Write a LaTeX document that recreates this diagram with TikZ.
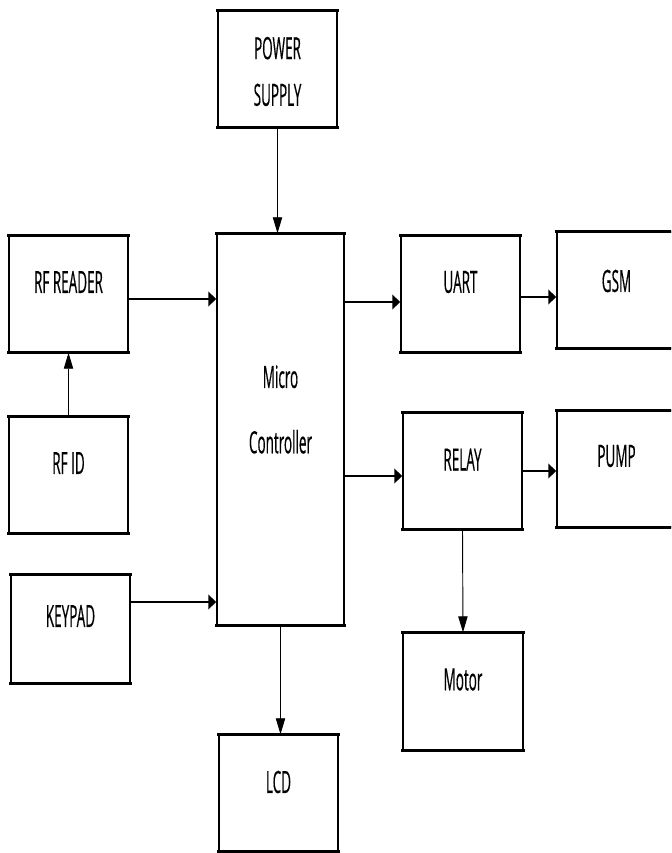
\documentclass[tikz,border=0pt]{standalone}
\usepackage{fontspec}
\setmainfont{Open Sans}[FakeStretch=0.44, FakeBold=0.4]
\usetikzlibrary{arrows.meta}
\begin{document}
\begin{tikzpicture}[x=0.75pt,y=-0.75pt,
  blk/.style 2 args={draw, line width=1.1pt, inner sep=0pt,
    minimum width=#1*0.75pt, minimum height=#2*0.75pt,
    append after command={(\tikzlastnode.north west) edge[draw, line width=2pt, line cap=rect] (\tikzlastnode.north east)
      (\tikzlastnode.south west) edge[draw, line width=2pt, line cap=rect] (\tikzlastnode.south east)}},
  lbl/.style={font=\fontsize{23}{35}\selectfont, text=black, inner sep=0pt, align=center},
  harrow/.style={line width=1.2pt, -{Triangle[length=6pt, width=11pt]}},
  varrow/.style={line width=0.7pt, -{Triangle[length=12pt, width=7pt]}}]
\path[use as bounding box, clip] (0,0) rectangle (671,853);

\node[blk={119}{116}, label={[name=psT, lbl, yshift=-1.9pt]center:POWER\\SUPPLY}] (ps) at (277.5,69) {};
\node[blk={119}{116}, label={[name=rfrT, lbl, yshift=9pt]center:RF READER}] (rfr) at (68.5,294) {};
\node[blk={119}{116}, label={[name=rfidT, lbl, yshift=9pt]center:RF ID}] (rfid) at (68.5,475) {};
\node[blk={119}{108}, label={[name=kpT, lbl, yshift=9.75pt]center:KEYPAD}] (kp) at (70.5,629) {};
\node[blk={127}{391}, label={[name=mcT, lbl, yshift=15pt]center:Micro\\[14pt]Controller}] (mc) at (280.5,429.5) {};
\node[blk={119}{116}, label={[name=lcdT, lbl, yshift=8.25pt]center:LCD}] (lcd) at (278.5,793) {};
\node[blk={119}{116}, label={[name=uartT, lbl, yshift=9pt]center:UART}] (uart) at (460.5,294) {};
\node[blk={119}{116}, label={[name=gsmT, lbl, yshift=6.75pt]center:GSM}] (gsm) at (616.5,290) {};
\node[blk={119}{116}, label={[name=relayT, lbl, yshift=8.6pt]center:RELAY}] (relay) at (462.5,471) {};
\node[blk={119}{116}, label={[name=pumpT, lbl, yshift=9.75pt]center:PUMP}] (pump) at (616.5,469) {};
\node[blk={120}{117}, label={[name=motorT, lbl, yshift=9pt]center:Motor}] (motor) at (463,691.5) {};

\draw[varrow] (ps.south) -- (ps.south |- mc.north);
\draw[varrow] (rfid.north) -- (rfr.south);
\draw[harrow] ([yshift=-3.75pt]rfr.east) -- ([yshift=-3.75pt]rfr.east -| mc.west);
\draw[harrow] ([yshift=20.25pt]kp.east) -- ([yshift=20.25pt]kp.east -| mc.west);
\draw[harrow] ([yshift=-6pt]uart.west -| mc.east) -- ([yshift=-6pt]uart.west);
\draw[harrow] ([yshift=-2.25pt]uart.east) -- ([yshift=-2.25pt]uart.east -| gsm.west);
\draw[harrow] ([yshift=-3.75pt]relay.west -| mc.east) -- ([yshift=-3.75pt]relay.west);
\draw[harrow] (relay.east) -- (relay.east -| pump.west);
\draw[varrow] (relay.south) -- (motor.north);
\draw[varrow] (mc.south) -- (mc.south |- lcd.north);
\end{tikzpicture}
\end{document}
